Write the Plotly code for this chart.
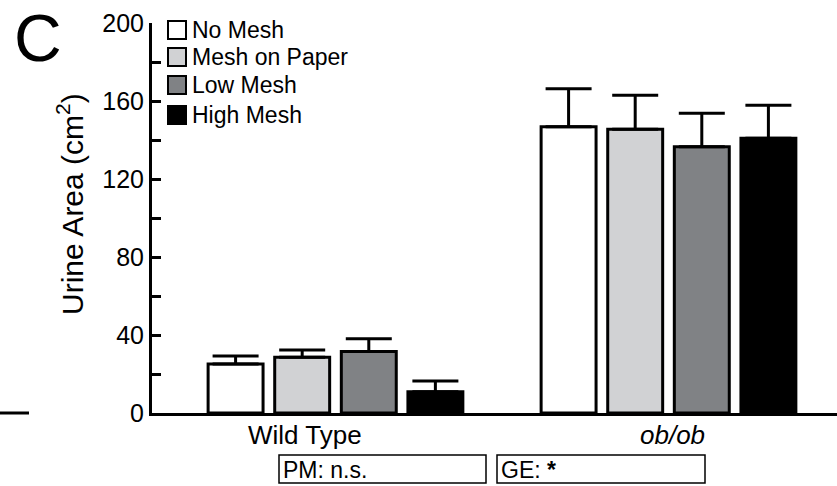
import plotly.graph_objects as go

W, H = 837, 486

groups = ["Wild Type", "ob/ob"]
series = ["No Mesh", "Mesh on Paper", "Low Mesh", "High Mesh"]
colors = ["#ffffff", "#d1d2d4", "#808285", "#000000"]
means = {
    "No Mesh":       [25.1, 146.8],
    "Mesh on Paper": [28.6, 145.5],
    "Low Mesh":      [31.6, 136.6],
    "High Mesh":     [10.9, 140.9],
}
sems = {
    "No Mesh":       [4.1, 19.5],
    "Mesh on Paper": [3.7, 17.4],
    "Low Mesh":      [6.5, 17.1],
    "High Mesh":     [5.5, 16.9],
}
y_ticks = [0, 40, 80, 120, 160, 200]
stats_text = ["PM: n.s.", "GE: <b>*</b>"]

FONT = "Liberation Sans, Arial, sans-serif"

def px(x):
    return x / W

def py(y):
    return 1 - y / H

fig = go.Figure()
xpos = list(range(len(groups)))
for name, col in zip(series, colors):
    fig.add_trace(go.Bar(
        x=xpos, y=means[name], name=name,
        marker=dict(color=col, line=dict(color="black", width=3)),
        error_y=dict(type="data", symmetric=False, array=sems[name],
                     arrayminus=[0] * len(groups), color="black",
                     thickness=3, width=23),
        showlegend=False,
    ))

fig.update_layout(
    width=W, height=H,
    margin=dict(l=0, r=0, t=0, b=0, autoexpand=False),
    paper_bgcolor="white", plot_bgcolor="white",
    barmode="group", bargap=0.2, bargroupgap=0.175,
    font=dict(family=FONT, color="black"),
    showlegend=False,
    xaxis=dict(domain=[px(152), 1], range=[-0.551, 1.506], automargin=False,
               showline=True, linecolor="black", linewidth=3,
               showticklabels=False, ticks="", showgrid=False, zeroline=False),
    yaxis=dict(domain=[py(413), py(23)], range=[0, 200], automargin=False,
               tickvals=y_ticks, ticks="inside", ticklen=9, tickwidth=3,
               tickcolor="black", showline=True, linecolor="black", linewidth=3,
               tickfont=dict(size=25, family=FONT, color="black"),
               minor=dict(dtick=20, ticks="inside", ticklen=9, tickwidth=3,
                          tickcolor="black", showgrid=False),
               showgrid=False, zeroline=False),
)

annotations = []
# y title
annotations.append(dict(x=px(70), y=py(204), xref="paper", yref="paper",
                        text="Urine Area (cm<sup>2</sup>)", textangle=-90,
                        showarrow=False, font=dict(size=30),
                        xanchor="center", yanchor="middle"))
# panel letter
annotations.append(dict(x=px(38), y=py(38), xref="paper", yref="paper",
                        text="C", showarrow=False, font=dict(size=66),
                        xanchor="center", yanchor="middle"))
# group labels
label_offsets = [-0.092, 0.011]
for i, g in enumerate(groups):
    txt = g if i == 0 else "<i>%s</i>" % g
    annotations.append(dict(x=i + label_offsets[i], y=py(435), xref="x", yref="paper",
                            text=txt, showarrow=False, font=dict(size=26),
                            xanchor="center", yanchor="middle"))
# manual legend
leg_y = [30, 57, 85, 115]
shapes = []
for name, col, yy in zip(series, colors, leg_y):
    shapes.append(dict(type="rect", xref="paper", yref="paper",
                       x0=px(168), x1=px(186), y0=py(yy - 9), y1=py(yy + 9),
                       fillcolor=col, line=dict(color="black", width=2)))
    annotations.append(dict(x=px(190), y=py(yy), xref="paper", yref="paper",
                            text=name, showarrow=False, font=dict(size=23),
                            xanchor="left", yanchor="middle"))
# stats boxes
boxes = [(279, 486), (497, 705)]
for (x0, x1), t in zip(boxes, stats_text):
    shapes.append(dict(type="rect", xref="paper", yref="paper",
                       x0=px(x0), x1=px(x1), y0=py(455), y1=py(483),
                       line=dict(color="black", width=1.5), fillcolor="rgba(0,0,0,0)"))
    annotations.append(dict(x=px(x0 + 2), y=py(470), xref="paper", yref="paper",
                            text=t, showarrow=False, font=dict(size=23),
                            xanchor="left", yanchor="middle"))
# stray dash at left edge
shapes.append(dict(type="line", xref="paper", yref="paper",
                   x0=0, x1=px(29), y0=py(413), y1=py(413),
                   line=dict(color="black", width=3)))

fig.update_layout(annotations=annotations, shapes=shapes)
fig.write_html("out.html")
